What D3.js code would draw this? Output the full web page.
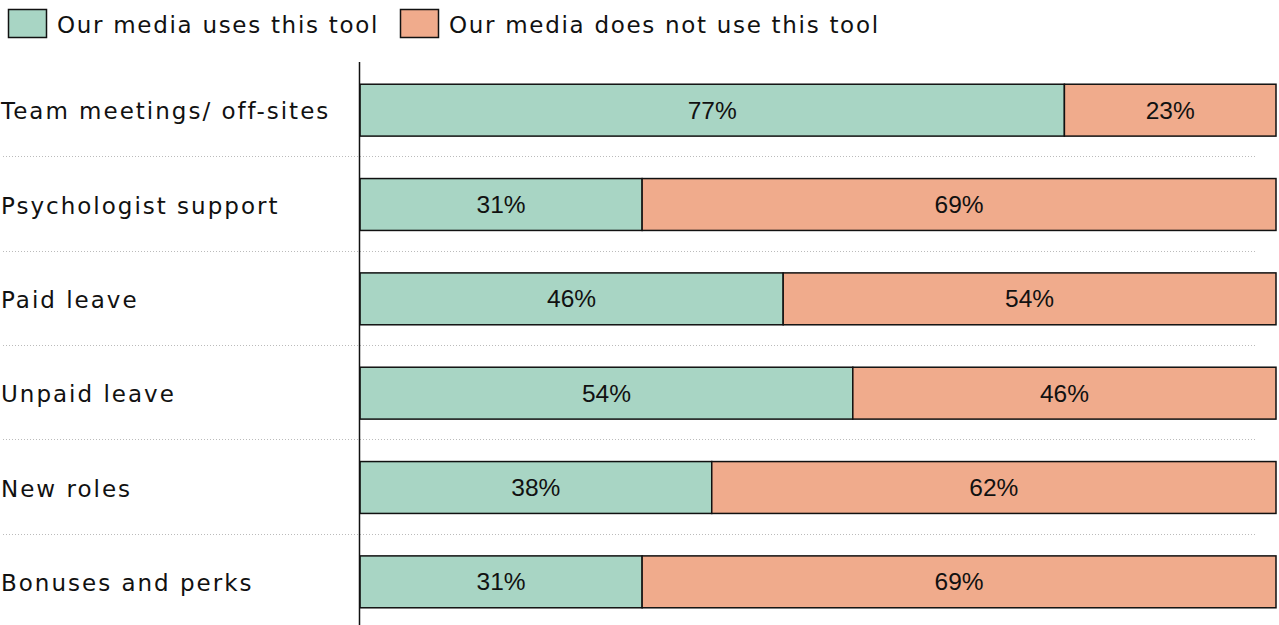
<!DOCTYPE html>
<html>
<head>
<meta charset="utf-8">
<script src="https://cdn.jsdelivr.net/npm/d3@7"></script>
<style>
  body { margin: 0; background: #fff; }
</style>
</head>
<body>
<script>
var categories = ["Team meetings/ off-sites", "Psychologist support", "Paid leave", "Unpaid leave", "New roles", "Bonuses and perks"];
// shares in percent (shown rounded)
var uses = [76.9, 30.8, 46.2, 53.8, 38.4, 30.8];
var notUses = [23.1, 69.2, 53.8, 46.2, 61.6, 69.2];
var seriesNames = ["Our media uses this tool", "Our media does not use this tool"];
var colors = ["#a8d5c4", "#f0ab8c"];

var w = 1279, h = 625;
var svg = d3.select("body").append("svg").attr("width", w).attr("height", h);

var labelFont = "'DejaVu Sans', sans-serif";
var valueFont = "'Liberation Sans', Arial, sans-serif";

var xScale = d3.scaleLinear().domain([0, 100]).range([360, 1276]);
var yScale = d3.scaleBand().domain(categories).range([63, 629]).paddingInner(0.45).paddingOuter(0.225);

// legend
var leg = [[8, seriesNames[0]], [400, seriesNames[1]]];
leg.forEach(function(l, i) {
  svg.append("rect").attr("x", l[0] + 0.5).attr("y", 9.5).attr("width", 38).attr("height", 28)
    .attr("fill", colors[i]).attr("stroke", "#111").attr("stroke-width", 1.5);
  svg.append("text").attr("x", l[0] + 49).attr("y", 33).text(l[1])
    .attr("font-family", labelFont).attr("font-size", 23).attr("letter-spacing", 1.7).attr("fill", "#111");
});

// dotted separators
var step = yScale.step();
categories.slice(0, -1).forEach(function(c) {
  var y = Math.round(yScale(c) + yScale.bandwidth() + (step - yScale.bandwidth()) / 2) - 0.5;
  svg.append("line").attr("x1", 3).attr("x2", 1256).attr("y1", y).attr("y2", y)
    .attr("stroke", "#bbb").attr("stroke-width", 1).attr("stroke-dasharray", "1,2");
});

var rows = categories.map(function(c, i) { return { cat: c, a: uses[i], b: notUses[i] }; });

var g = svg.selectAll("g.row").data(rows).enter().append("g").attr("class", "row");

g.append("rect").attr("x", xScale(0)).attr("y", function(d) { return yScale(d.cat); })
  .attr("width", function(d) { return xScale(d.a) - xScale(0); }).attr("height", yScale.bandwidth())
  .attr("fill", colors[0]).attr("stroke", "#111").attr("stroke-width", 1.5);
g.append("rect").attr("x", function(d) { return xScale(d.a); }).attr("y", function(d) { return yScale(d.cat); })
  .attr("width", function(d) { return xScale(d.a + d.b) - xScale(d.a); }).attr("height", yScale.bandwidth())
  .attr("fill", colors[1]).attr("stroke", "#111").attr("stroke-width", 1.5);

g.append("text").attr("x", function(d) { return (xScale(0) + xScale(d.a)) / 2; })
  .attr("y", function(d) { return yScale(d.cat) + yScale.bandwidth() / 2; }).attr("dy", "0.35em")
  .attr("text-anchor", "middle").attr("font-family", valueFont)
  .attr("font-size", 24.5).attr("fill", "#111").text(function(d) { return Math.round(d.a) + "%"; });
g.append("text").attr("x", function(d) { return (xScale(d.a) + xScale(d.a + d.b)) / 2; })
  .attr("y", function(d) { return yScale(d.cat) + yScale.bandwidth() / 2; }).attr("dy", "0.35em")
  .attr("text-anchor", "middle").attr("font-family", valueFont)
  .attr("font-size", 24.5).attr("fill", "#111").text(function(d) { return Math.round(d.b) + "%"; });

// category labels
g.append("text").attr("x", 1).attr("y", function(d) { return yScale(d.cat) + yScale.bandwidth() / 2 + 1; })
  .attr("dy", "0.35em").attr("font-family", labelFont).attr("font-size", 23).attr("letter-spacing", 2)
  .attr("fill", "#111").text(function(d) { return d.cat; });

// axis line
svg.append("line").attr("x1", 359.5).attr("x2", 359.5).attr("y1", 62).attr("y2", 625)
  .attr("stroke", "#111").attr("stroke-width", 1.5);
</script>
</body>
</html>
